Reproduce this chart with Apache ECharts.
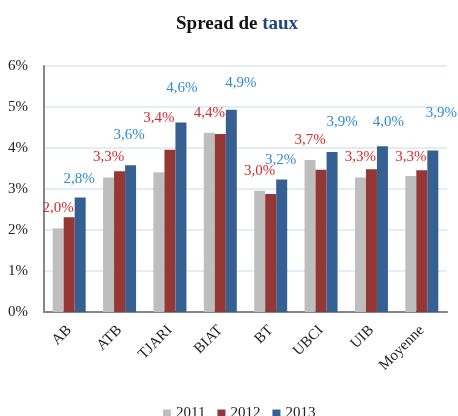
<!DOCTYPE html>
<html>
<head>
<meta charset="utf-8">
<script src="https://cdn.jsdelivr.net/npm/echarts@6/dist/echarts.min.js"></script>
<style>html,body{margin:0;padding:0;background:#fff}#c{width:458px;height:416px}</style>
</head>
<body>
<div id="c"></div>
<script>
// ---- data ----
const categories = ['AB', 'ATB', 'TJARI', 'BIAT', 'BT', 'UBCI', 'UIB', 'Moyenne'];
const seriesNames = ['2011', '2012', '2013'];
const values2011 = [2.04, 3.28, 3.41, 4.37, 2.96, 3.71, 3.28, 3.32];
const values2012 = [2.31, 3.43, 3.96, 4.34, 2.88, 3.47, 3.48, 3.46];
const values2013 = [2.79, 3.58, 4.62, 4.93, 3.23, 3.90, 4.04, 3.94];
const yTicks = [0, 1, 2, 3, 4, 5, 6];

// ---- label placement (style only) ----
const redLabelDy = [-7.5, -8, -41.5, -7.5, -7.5, -7.5, -7.5, -6.5];
const blueLabelDx = [-1, -1.5, 1, 9.5, -1, 10, 6, 8.5];
const blueLabelDy = [-6, -17.5, -22, -14.5, -7.5, -17.5, -12, -24.5];

const serif = '"Liberation Serif", "Times New Roman", serif';
const fmt = v => v.toFixed(1).replace('.', ',') + '%';

const chart = echarts.init(document.getElementById('c'), null, {renderer: 'canvas'});
chart.setOption({
  animation: false,
  backgroundColor: '#ffffff',
  title: {
    text: '{a|Spread de }{b|taux}',
    left: 171,
    top: 10,
    textStyle: {
      rich: {
        a: {fontFamily: serif, fontSize: 19, fontWeight: 'bold', color: '#111111'},
        b: {fontFamily: serif, fontSize: 19, fontWeight: 'bold', color: '#1F497D'}
      }
    }
  },
  grid: {left: 44, right: 11, top: 66, bottom: 104, containLabel: false},
  legend: {
    data: seriesNames,
    top: 401,
    left: 158,
    itemWidth: 8,
    itemHeight: 8,
    itemGap: 12,
    icon: 'rect',
    textStyle: {fontFamily: serif, fontSize: 15, color: '#222222'}
  },
  xAxis: {
    type: 'category',
    data: categories,
    axisLine: {show: true, lineStyle: {color: '#868686', width: 2}},
    axisTick: {show: false},
    axisLabel: {rotate: 45, margin: 16, fontFamily: serif, fontSize: 15, color: '#222222', interval: 0}
  },
  yAxis: {
    type: 'value',
    min: yTicks[0],
    max: yTicks[yTicks.length - 1],
    interval: 1,
    axisLine: {show: true, lineStyle: {color: '#868686', width: 2}},
    axisTick: {show: false},
    axisLabel: {formatter: '{value}%', fontFamily: serif, fontSize: 15, color: '#222222', margin: 16},
    splitLine: {lineStyle: {color: '#DCE6F2', width: 1.5}}
  },
  series: [
    {
      name: seriesNames[0], type: 'bar', barWidth: 11, barGap: '0%',
      itemStyle: {color: '#BEBEBE'},
      data: values2011.map((v, i) => ({value: v, label: {offset: [0, redLabelDy[i]]}})),
      label: {show: true, position: 'top', distance: 5, formatter: p => fmt(p.value),
        fontFamily: serif, fontSize: 15, color: '#D8282E'}
    },
    {
      name: seriesNames[1], type: 'bar', barWidth: 11, barGap: '0%',
      itemStyle: {color: '#953735'},
      data: values2012
    },
    {
      name: seriesNames[2], type: 'bar', barWidth: 11, barGap: '0%',
      itemStyle: {color: '#376092'},
      data: values2013.map((v, i) => ({value: v, label: {offset: [blueLabelDx[i], blueLabelDy[i]]}})),
      label: {show: true, position: 'top', distance: 5, formatter: p => fmt(p.value),
        fontFamily: serif, fontSize: 15, color: '#2F8BD5'}
    }
  ]
});
</script>
</body>
</html>
